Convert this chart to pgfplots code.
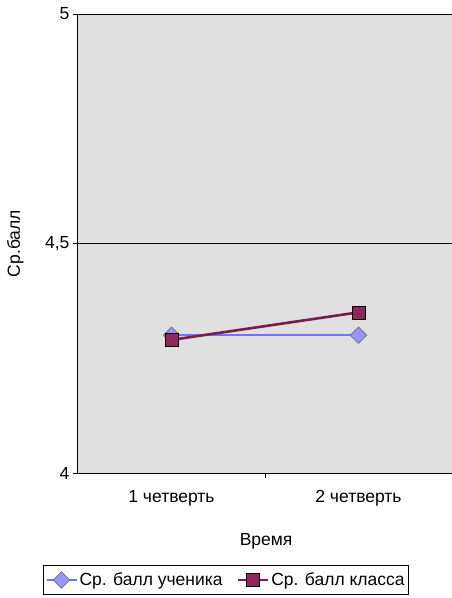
\documentclass[border=0pt]{standalone}
\usepackage{fontspec}
\setmainfont{Liberation Sans}
\usepackage{pgfplots}
\pgfplotsset{compat=1.18}

\definecolor{bgplot}{RGB}{224,224,224}
\definecolor{uchenik}{RGB}{115,115,245}
\definecolor{ucheniklight}{RGB}{150,150,255}
\definecolor{klass}{RGB}{120,28,75}
\definecolor{klassfill}{RGB}{140,40,90}

\begin{document}
\begin{tikzpicture}[x=1pt,y=1pt]
\useasboundingbox (-78,-125) rectangle (374,473);
\begin{axis}[
    at={(0,0)}, anchor=south west,
    scale only axis,
    width=374pt, height=459pt,
    xmin=0.5, xmax=2.5,
    ymin=4, ymax=5,
    axis lines*=left,
    axis line style={line width=1pt},
    axis background/.style={fill=bgplot},
    ytick={4,4.5,5},
    yticklabels={4,{4,5},5},
    xtick={1,2},
    xticklabels={1 четверть, 2 четверть},
    minor xtick={1.5},
    tick align=outside,
    major tick length=5pt,
    minor tick length=5pt,
    tick style={black, line width=0.8pt},
    major x tick style={draw=none},
    ymajorgrids,
    grid style={black, line width=0.8pt},
    font=\fontsize{17.5}{21}\selectfont,
    xticklabel style={yshift=-9pt},
    xlabel={Время},
    ylabel={Ср.балл},
    xlabel style={at={(axis description cs:0.503,-0.148)}, anchor=center},
    ylabel style={at={(axis description cs:-0.168,0.5)}, anchor=center},
    legend columns=2,
    legend style={
      at={(axis description cs:0.396,-0.233)}, anchor=center,
      draw=black, line width=0.8pt,
      fill=white,
      font=\fontsize{17.5}{21}\selectfont,
      inner xsep=2pt, inner ysep=5pt,
      /tikz/every even column/.append style={column sep=12pt},
    },
    legend image code/.code={
      \draw[mark repeat=2,mark phase=2] plot coordinates {(0pt,0pt) (15pt,0pt) (30pt,0pt)};
    },
]
% diamonds drawn as squares turned by 45 degrees
\addplot[color=uchenik, line width=2pt, mark=square*,
  mark size=5.8pt, mark options={rotate=45, fill=ucheniklight, draw=black!60, line width=0.6pt}]
  coordinates {(1,4.30) (2,4.30)};
\addlegendentry{Ср. балл ученика}
\addplot[color=klass, line width=2.6pt, mark=square*,
  mark size=6.5pt, mark options={fill=klassfill, draw=black, line width=0.7pt}]
  coordinates {(1,4.29) (2,4.35)};
\addlegendentry{Ср. балл класса}
\end{axis}
\end{tikzpicture}
\end{document}
